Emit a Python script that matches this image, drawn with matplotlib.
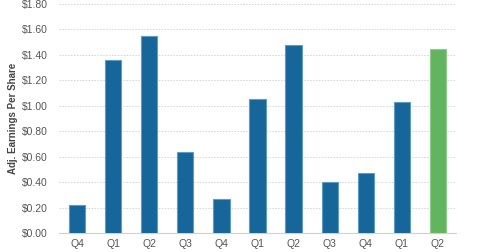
import matplotlib
matplotlib.use("Agg")
import matplotlib.pyplot as plt
from matplotlib.ticker import FuncFormatter

quarters = ["Q4", "Q1", "Q2", "Q3", "Q4", "Q1", "Q2", "Q3", "Q4", "Q1", "Q2"]
eps = [0.22, 1.36, 1.55, 0.64, 0.27, 1.05, 1.48, 0.40, 0.47, 1.03, 1.45]
yticks = [0.0, 0.2, 0.4, 0.6, 0.8, 1.0, 1.2, 1.4, 1.6, 1.8]

blue = "#166699"
green = "#63b45f"
colors = [blue] * (len(eps) - 1) + [green]
edges = ["#5f9cc4"] * (len(eps) - 1) + ["#8fcc8a"]

plt.rcParams['font.family'] = ['Liberation Sans', 'DejaVu Sans']

fig = plt.figure(figsize=(4.8, 2.52), dpi=100)
ax = fig.add_axes([0.123, 0.0754, 0.827, 0.9087])

x = range(len(eps))
ax.bar(x, eps, width=0.45, color=colors, edgecolor=edges, linewidth=0.8, zorder=3)

ax.set_xlim(-0.5, len(eps) - 0.5)
ax.set_ylim(0, 1.8)
ax.set_yticks(yticks)
ax.yaxis.set_major_formatter(FuncFormatter(lambda v, p: "${:.2f}".format(v)))
ax.set_xticks(list(x))
ax.set_xticklabels(quarters)

# light dotted gridlines
ax.grid(axis="y", color="#d4d4d4", linestyle=(0, (1.5, 1.5)), linewidth=0.7, zorder=0)
for s in ["top", "right", "left"]:
    ax.spines[s].set_visible(False)
ax.spines["bottom"].set_color("#d0d0d0")
ax.tick_params(length=0, labelsize=7.5, colors="#555555")
ax.tick_params(axis="y", pad=8)
ax.tick_params(axis="x", pad=4)

ax.set_ylabel("Adj. Earnings Per Share", fontsize=7, color="#444444", fontweight="bold", labelpad=3)

fig.savefig("out.png", dpi=100)
